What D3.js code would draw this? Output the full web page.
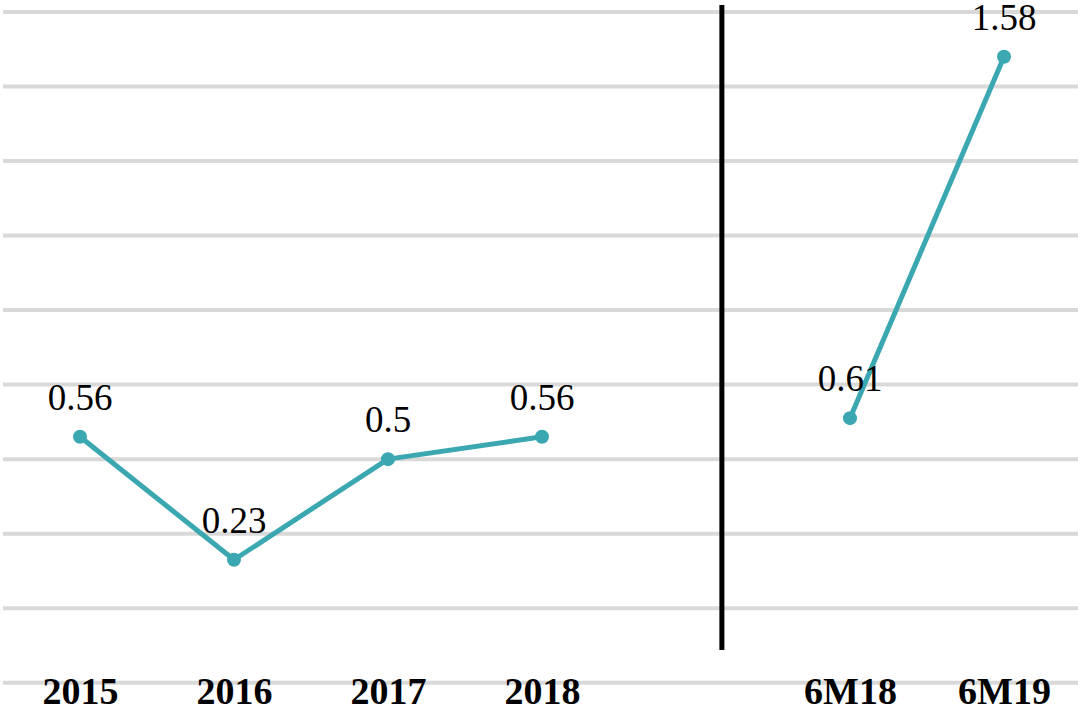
<!DOCTYPE html>
<html>
<head>
<meta charset="utf-8">
<script src="https://cdn.jsdelivr.net/npm/d3@7"></script>
<style>
  body { margin: 0; background: #fff; }
  svg { display: block; }
</style>
</head>
<body>
<div id="chart"></div>
<script>
// data
var categories = ["2015", "2016", "2017", "2018", "", "6M18", "6M19"];
var annualYears = ["2015", "2016", "2017", "2018"];
var annualValues = [0.56, 0.23, 0.5, 0.56];
var halfYears = ["6M18", "6M19"];
var halfValues = [0.61, 1.58];
var gridTicks = [-0.1, 0.1, 0.3, 0.5, 0.7, 0.9, 1.1, 1.3, 1.5, 1.7];

var width = 1078, height = 713;

var svg = d3.select("#chart")
  .append("svg")
  .attr("width", width)
  .attr("height", height);

// x: one slot per category, the blank one makes the gap
var x = d3.scalePoint()
  .domain(categories)
  .range([3, 1081])
  .padding(0.5);

// y: gridlines 0.2 apart
var y = d3.scaleLinear()
  .domain([-0.1, 1.7])
  .range([682.7, 12]);

// gridlines
svg.append("g")
  .attr("class", "grid")
  .selectAll("line")
  .data(gridTicks)
  .enter()
  .append("line")
  .attr("x1", 3)
  .attr("x2", width)
  .attr("y1", function (d) { return y(d); })
  .attr("y2", function (d) { return y(d); })
  .attr("stroke", "#d9d9d9")
  .attr("stroke-width", 4);

// category labels
svg.append("g")
  .attr("transform", "translate(0,704)")
  .call(d3.axisBottom(x).tickSize(0).tickPadding(0))
  .call(function (g) { g.select(".domain").remove(); })
  .selectAll("text")
  .attr("dy", 0)
  .attr("y", 0)
  .style("font-family", "'Liberation Serif', serif")
  .style("font-weight", "bold")
  .style("font-size", "38px")
  .attr("fill", "#000");

// divider between annual and half-year figures
var divX = x("2018") + (x("6M18") - x("2018")) * 0.584;
svg.append("line")
  .attr("x1", divX)
  .attr("x2", divX)
  .attr("y1", 5)
  .attr("y2", 650)
  .attr("stroke", "#000")
  .attr("stroke-width", 5);

var teal = "#3aa7b1";

var line = d3.line()
  .x(function (d) { return x(d[0]); })
  .y(function (d) { return y(d[1]); });

function drawSeries(cats, vals) {
  var pts = cats.map(function (c, i) { return [c, vals[i]]; });

  svg.append("path")
    .datum(pts)
    .attr("d", line)
    .attr("fill", "none")
    .attr("stroke", teal)
    .attr("stroke-width", 5)
    .attr("stroke-linejoin", "round");

  svg.append("g")
    .selectAll("circle")
    .data(pts)
    .enter()
    .append("circle")
    .attr("cx", function (d) { return x(d[0]); })
    .attr("cy", function (d) { return y(d[1]); })
    .attr("r", 7)
    .attr("fill", teal);

  svg.append("g")
    .selectAll("text")
    .data(pts)
    .enter()
    .append("text")
    .attr("x", function (d) { return x(d[0]); })
    .attr("y", function (d) { return y(d[1]) - 27; })
    .attr("text-anchor", "middle")
    .style("font-family", "'Liberation Serif', serif")
    .style("font-size", "37px")
    .attr("fill", "#000")
    .text(function (d) { return d[1]; });
}

drawSeries(annualYears, annualValues);
drawSeries(halfYears, halfValues);
</script>
</body>
</html>
